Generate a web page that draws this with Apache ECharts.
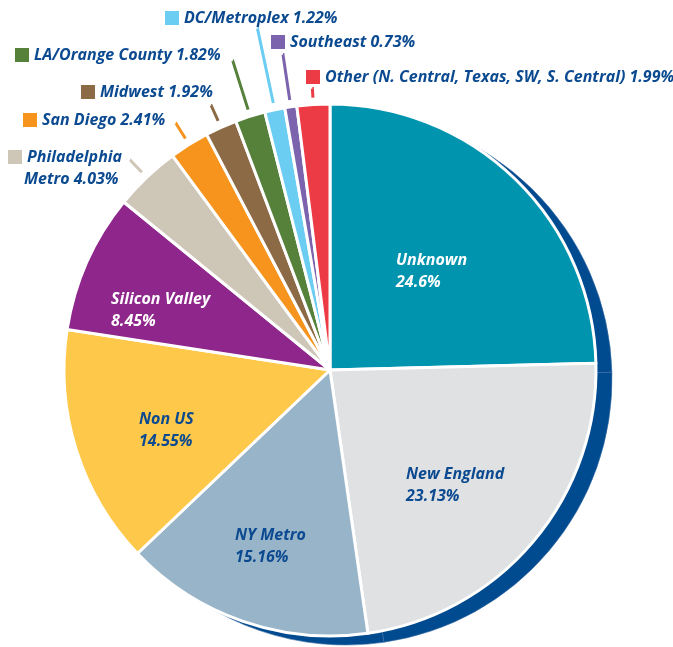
<!DOCTYPE html>
<html>
<head>
<meta charset="utf-8">
<script src="https://cdn.jsdelivr.net/npm/echarts@6/dist/echarts.min.js"></script>
<style>
html,body{margin:0;padding:0;background:#fff;}
#chart{width:673px;height:647px;}
</style>
</head>
<body>
<div id="chart"></div>
<script>
// ---- data ----
const categories = ['Unknown', 'New England', 'NY Metro', 'Non US', 'Silicon Valley',
  'Philadelphia Metro', 'San Diego', 'Midwest', 'LA/Orange County', 'DC/Metroplex',
  'Southeast', 'Other (N. Central, Texas, SW, S. Central)'];
const values = [24.6, 23.13, 15.16, 14.55, 8.45, 4.03, 2.41, 1.92, 1.82, 1.22, 0.73, 1.99];

// ---- styles ----
const palette = ['#0094AE', '#E0E1E3', '#98B4C8', '#FEC84B', '#8E268B', '#CEC6B6',
  '#F7941D', '#8C6A45', '#56813A', '#6BCDF2', '#7B64AD', '#EC3B45'];
const TEXT = '#0B4A90';
const FONT = '"Open Sans", sans-serif';
const FS = 16;
const insideIdx = [0, 1, 2, 3, 4];
const whiteText = [0, 4];
// label placement (pixel, x = left edge, y = vertical middle)
const labelPlace = {
  0: [396, 271], 1: [406, 485], 2: [235, 546], 3: [139, 430], 4: [111, 310],
  5: [8, 168], 6: [23, 120], 7: [81, 92], 8: [15, 55], 9: [165, 18], 10: [271, 42], 11: [306, 77]
};
const lineLen = {5: 17, 6: 18, 7: 17, 8: 51, 9: 76, 10: 46, 11: 9};

const CX = 330, CY = 370, R = 266;

const rich = {
  t: {fontFamily: FONT, fontStyle: 'italic', fontWeight: 'bold', fontSize: FS, color: TEXT, lineHeight: 22, padding: [0, 0, 0, 5]},
  sp: {width: 11, height: 14}
};
palette.forEach((c, i) => { rich['sq' + i] = {width: 14, height: 14, backgroundColor: c}; });

const mainData = categories.map((name, i) => {
  const inside = insideIdx.includes(i);
  return {
    name: name,
    value: values[i],
    itemStyle: {color: palette[i]},
    label: inside ? {
      formatter: '{name|' + name + '}\n{name|' + values[i] + '%}',
      rich: {name: {fontFamily: FONT, fontStyle: 'italic', fontWeight: 'bold', fontSize: FS,
        lineHeight: 22, color: whiteText.includes(i) ? '#ffffff' : TEXT}}
    } : {
      formatter: name === 'Philadelphia Metro'
        ? '{sq' + i + '|}{t|Philadelphia}\n{sp|}{t|Metro ' + values[i] + '%}'
        : '{sq' + i + '|}{t|' + name + ' ' + values[i] + '%}',
      rich: rich
    }
  };
});

const lineData = categories.map((name, i) => {
  const show = lineLen[i] !== undefined;
  return {
    name: name, value: values[i],
    label: {show: show},
    labelLine: {show: show, length: show ? lineLen[i] : 0, length2: 0.01,
      minTurnAngle: null, maxSurfaceAngle: null,
      lineStyle: {color: palette[i], width: 3}}
  };
});

const chart = echarts.init(document.getElementById('chart'), null, {renderer: 'canvas'});
chart.setOption({
  animation: false,
  series: [
    {
      type: 'pie', name: 'shadow', silent: true,
      center: [CX + 16, CY + 9], radius: [0, R],
      startAngle: 90, clockwise: true,
      label: {show: false}, labelLine: {show: false},
      itemStyle: {color: '#004A8F', borderColor: '#3C6FA5', borderWidth: 0.6},
      data: categories.map((n, i) => ({name: n, value: values[i]})),
      z: 1
    },
    {
      type: 'pie', name: 'lines', silent: true,
      center: [CX, CY], radius: [0, R + 7],
      startAngle: 90, clockwise: true, avoidLabelOverlap: false,
      itemStyle: {color: 'rgba(0,0,0,0)', borderWidth: 0},
      label: {position: 'outside', formatter: ' ', fontSize: 1},
      data: lineData,
      z: 2
    },
    {
      type: 'pie', name: 'main', silent: true,
      center: [CX, CY], radius: [0, R],
      startAngle: 90, clockwise: true, avoidLabelOverlap: false,
      itemStyle: {borderColor: '#ffffff', borderWidth: 3},
      label: {show: true, position: 'inside', align: 'left'},
      labelLine: {show: false},
      labelLayout: function (p) {
        const pl = labelPlace[p.dataIndex];
        return {x: pl[0], y: pl[1], align: 'left', verticalAlign: 'middle'};
      },
      data: mainData,
      z: 3
    }
  ]
});
</script>
</body>
</html>
